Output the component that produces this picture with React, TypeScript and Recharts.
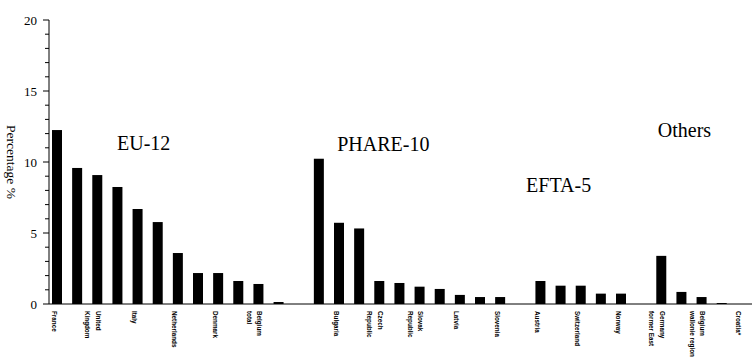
import React from "react";
import { BarChart, Bar, XAxis, YAxis, ReferenceDot } from "recharts";

const categories: string[] = [
  "France", "", "United\nKingdom", "", "Italy", "", "Netherlands", "", "Denmark", "", "Belgium\ntotal", "",
  "",
  "", "Bulgaria", "", "Czech\nRepublic", "", "Slovak\nRepublic", "", "Latvia", "", "Slovenia",
  "",
  "Austria", "", "Switzerland", "", "Norway",
  "",
  "Germany\nformer East", "", "Belgium\nwallonie region", "", "Croatia*",
];

const values: (number | null)[] = [
  12.25, 9.58, 9.08, 8.24, 6.69, 5.77, 3.59, 2.18, 2.18, 1.62, 1.41, 0.14,
  null,
  10.23, 5.72, 5.32, 1.62, 1.48, 1.22, 1.06, 0.64, 0.49, 0.49,
  null,
  1.62, 1.29, 1.29, 0.73, 0.73,
  null,
  3.39, 0.85, 0.49, 0.07, 0,
];

const yTicks: number[] = [0, 1, 2, 3, 4, 5, 6, 7, 8, 9, 10, 11, 12, 13, 14, 15, 16, 17, 18, 19, 20];
const majorTicks: number[] = [0, 5, 10, 15, 20];

const groupLabels = [
  { text: "EU-12", slot: 4, y: 11.36, dx: 4 },
  { text: "PHARE-10", slot: 16, y: 11.29, dx: 2 },
  { text: "EFTA-5", slot: 25, y: 8.4, dx: -4 },
  { text: "Others", slot: 31, y: 12.24, dx: 1 },
];

const data = values.map((v, i) => ({ slot: i, name: categories[i], value: v }));

const serif = "'Liberation Serif', 'Times New Roman', serif";

const XTick = (props: any) => {
  const { x, y, payload } = props;
  const label = categories[payload.value] || "";
  if (!label) return null;
  const lines = label.split("\n");
  const firstLy = lines.length === 1 ? 4.5 : 0.5;
  return (
    <g transform={`translate(${x},${y + 7})`}>
      <text
        transform="rotate(90)"
        fontFamily="'Liberation Sans', Arial, sans-serif"
        fontSize={6.3}
        fontWeight={700}
        fill="#000"
        textAnchor="start"
        dominantBaseline="central"
      >
        {lines.map((l: string, i: number) => (
          <tspan key={i} x={0} y={firstLy + i * 10.5}>
            {l}
          </tspan>
        ))}
      </text>
    </g>
  );
};

const YTick = (props: any) => {
  const { x, y, payload } = props;
  const major = majorTicks.includes(payload.value);
  return (
    <g>
      <line x1={x - (major ? 6 : 4)} x2={x} y1={y} y2={y} stroke="#000" strokeWidth={1} />
      {major && (
        <text x={x - 12} y={y} dy="0.35em" textAnchor="end" fontFamily={serif} fontSize={13} fill="#000">
          {payload.value}
        </text>
      )}
    </g>
  );
};

const BarShape = (props: any) => {
  const { x, y, width, height } = props;
  if (!height || height <= 0) return null;
  return <rect x={x - 2} y={y} width={width} height={height} fill="#000" />;
};

export default function App() {
  return (
    <div style={{ position: "fixed", left: 0, top: 0, width: 752, height: 364, overflow: "hidden", background: "#fff" }}>
      <BarChart
        width={754}
        height={364}
        data={data}
        margin={{ top: 20, right: 0, bottom: 0, left: 0 }}
        barSize={10}
      >
        <XAxis
          dataKey="slot"
          type="category"
          interval={0}
          height={60}
          tickLine={false}
          tickSize={0}
          tickMargin={0}
          axisLine={{ stroke: "#000" }}
          tick={<XTick />}
        />
        <YAxis
          width={49}
          domain={[0, 20]}
          ticks={yTicks}
          interval={0}
          tickLine={false}
          tickSize={0}
          tickMargin={0}
          axisLine={{ stroke: "#000" }}
          tick={<YTick />}
          label={(p: any) => {
            const vb = p.viewBox || { x: 0, y: 20, width: 49, height: 284 };
            const cx = 11;
            const cy = vb.y + vb.height / 2;
            return (
              <text
                x={cx}
                y={cy}
                transform={`rotate(90, ${cx}, ${cy})`}
                textAnchor="middle"
                dominantBaseline="central"
                fontFamily={serif}
                fontSize={13.5}
                fill="#000"
              >
                Percentage %
              </text>
            );
          }}
        />
        <Bar dataKey="value" fill="#000" isAnimationActive={false} shape={<BarShape />} />
        {groupLabels.map((g) => (
          <ReferenceDot
            key={g.text}
            x={g.slot}
            y={g.y}
            r={0}
            fill="none"
            stroke="none"
            label={(p: any) => {
              const vb = p.viewBox || {};
              const cx = (vb.cx ?? vb.x ?? 0) + g.dx;
              const cy = vb.cy ?? vb.y ?? 0;
              return (
                <text x={cx} y={cy} dy="0.35em" textAnchor="middle" fontFamily={serif} fontSize={20} fill="#000">
                  {g.text}
                </text>
              );
            }}
          />
        ))}
      </BarChart>
    </div>
  );
}
